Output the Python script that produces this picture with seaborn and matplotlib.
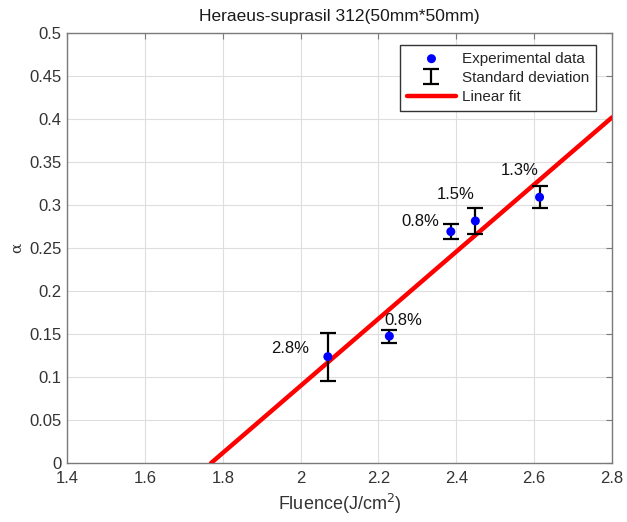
import matplotlib
matplotlib.use("Agg")
import matplotlib.pyplot as plt
import seaborn as sns
import numpy as np
import pandas as pd

# Data
fluence = [2.070, 2.228, 2.386, 2.449, 2.614]
alpha = [0.1236, 0.1475, 0.2690, 0.2814, 0.3090]
err_low = [0.0283, 0.0085, 0.0082, 0.0151, 0.0121]
err_high = [0.0272, 0.0072, 0.0086, 0.0155, 0.0127]
pct_labels = ["2.8%", "0.8%", "0.8%", "1.5%", "1.3%"]
fit_slope = 0.39
fit_x0 = 1.77
fit_range = [1.77, 2.8]

xticks = [1.4, 1.6, 1.8, 2.0, 2.2, 2.4, 2.6, 2.8]
xtick_labels = ["1.4", "1.6", "1.8", "2", "2.2", "2.4", "2.6", "2.8"]
yticks = [0, 0.05, 0.1, 0.15, 0.2, 0.25, 0.3, 0.35, 0.4, 0.45, 0.5]
ytick_labels = ["0", "0.05", "0.1", "0.15", "0.2", "0.25", "0.3", "0.35", "0.4", "0.45", "0.5"]

sns.set_theme(style="white")
plt.rcParams['font.family'] = ['Liberation Sans', 'DejaVu Sans']

fig = plt.figure(figsize=(6.27, 5.22), dpi=100)
ax = fig.add_axes([0.107, 0.113, 0.869, 0.824])

fit_x = np.array(fit_range)
fit_df = pd.DataFrame({"x": fit_x, "y": fit_slope * (fit_x - fit_x0)})
df = pd.DataFrame({"x": fluence, "y": alpha})

sns.lineplot(data=fit_df, x="x", y="y", ax=ax, color="#ff0000", linewidth=3.2,
             label="Linear fit", zorder=3)
eb = ax.errorbar(fluence, alpha, yerr=[err_low, err_high], fmt="none", ecolor="black",
                 elinewidth=1.6, capsize=6, capthick=1.6, zorder=4, label="Standard deviation")
sns.scatterplot(data=df, x="x", y="y", ax=ax, color="#0000ff", s=42, edgecolor="none",
                zorder=5, label="Experimental data")

offsets = [(-27, 6), (10, 11.5), (-22, 7), (-14, 19), (-14, 19)]
for xi, yi, lab, (dx, dy) in zip(fluence, alpha, pct_labels, offsets):
    ax.annotate(lab, (xi, yi), xytext=(dx, dy), textcoords="offset points",
                ha="center", va="center", fontsize=12, color="#111111", zorder=6)

ax.set_xlim(1.4, 2.8)
ax.set_ylim(0, 0.5)
ax.set_xticks(xticks)
ax.set_xticklabels(xtick_labels)
ax.set_yticks(yticks)
ax.set_yticklabels(ytick_labels)
ax.grid(True, color="#dedede", linewidth=0.8)
ax.set_axisbelow(True)
for sp in ax.spines.values():
    sp.set_color("#7a7a7a")
    sp.set_linewidth(1.0)
ax.tick_params(direction="in", length=4, width=0.8, color="#7a7a7a",
               top=True, right=True, labelsize=12, labelcolor="#333333")
ax.tick_params(axis="x", pad=6)
ax.tick_params(axis="y", pad=4)

ax.set_title("Heraeus-suprasil 312(50mm*50mm)", fontsize=12.5, color="#1a1a1a", pad=8.5)
ax.set_xlabel("Fluence(J/cm$^2$)", fontsize=13, color="#333333", labelpad=4)
ax.set_ylabel("α", fontsize=11, color="#333333", family=["DejaVu Serif"], labelpad=4)

handles, labels = ax.get_legend_handles_labels()
order = ["Experimental data", "Standard deviation", "Linear fit"]
hmap = dict(zip(labels, handles))
leg = ax.legend([hmap[o] for o in order], order, loc="upper right",
                bbox_to_anchor=(0.985, 0.99), fontsize=11, frameon=True,
                fancybox=False, edgecolor="#333333", framealpha=1,
                handlelength=3.2, borderpad=0.45, labelspacing=0.35, handletextpad=0.4)
leg.get_frame().set_linewidth(1.0)

fig.savefig("out.png", dpi=100)
